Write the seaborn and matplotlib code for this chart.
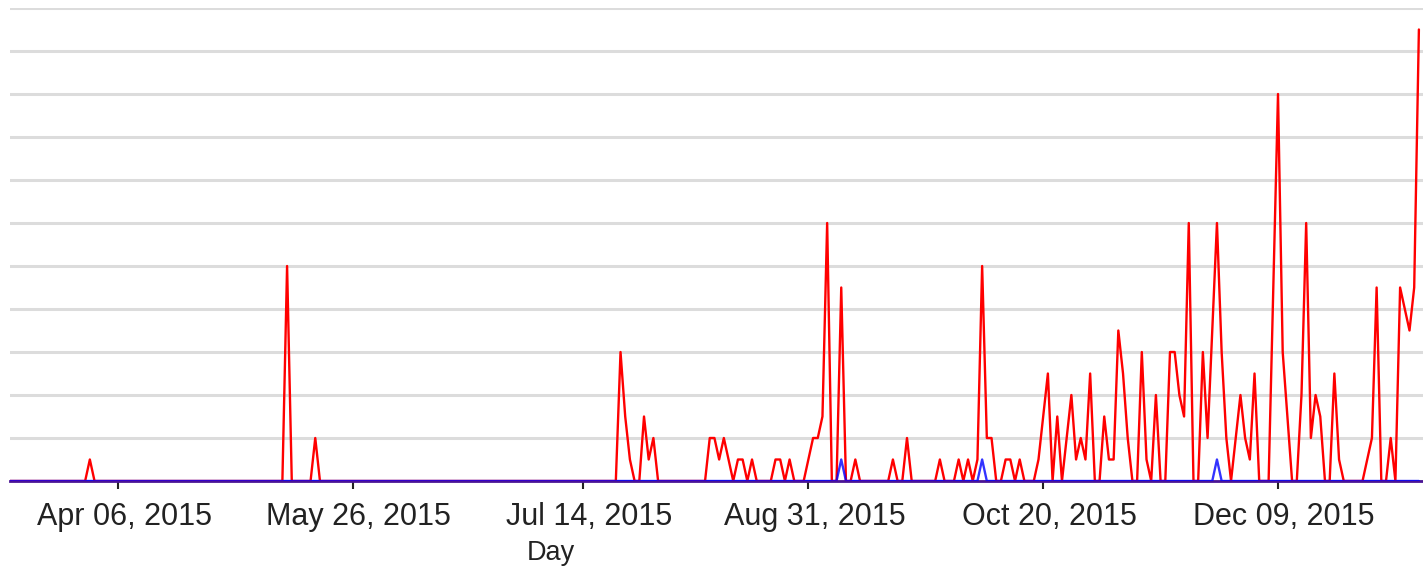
import matplotlib
matplotlib.use("Agg")
import matplotlib.pyplot as plt
import matplotlib.dates as mdates
import matplotlib.transforms as mtransforms
import pandas as pd
import seaborn as sns

# daily series, every day not listed below is 0
start_date = "2015-03-14"
end_date = "2016-01-08"

red_dates = [
    "2015-03-31", "2015-05-12", "2015-05-18",
    "2015-07-22", "2015-07-23", "2015-07-24", "2015-07-27", "2015-07-28", "2015-07-29",
    "2015-08-10", "2015-08-11", "2015-08-12", "2015-08-13", "2015-08-14", "2015-08-16",
    "2015-08-17", "2015-08-19", "2015-08-24", "2015-08-25", "2015-08-27", "2015-08-31",
    "2015-09-01", "2015-09-02", "2015-09-03", "2015-09-04", "2015-09-07", "2015-09-10",
    "2015-09-18", "2015-09-21", "2015-09-28",
    "2015-10-02", "2015-10-04", "2015-10-06", "2015-10-07", "2015-10-08", "2015-10-09",
    "2015-10-12", "2015-10-13", "2015-10-15", "2015-10-19", "2015-10-20", "2015-10-21",
    "2015-10-23", "2015-10-25", "2015-10-26", "2015-10-27", "2015-10-28", "2015-10-29",
    "2015-10-30",
    "2015-11-02", "2015-11-03", "2015-11-04", "2015-11-05", "2015-11-06", "2015-11-07",
    "2015-11-10", "2015-11-11", "2015-11-13", "2015-11-16", "2015-11-17", "2015-11-18",
    "2015-11-19", "2015-11-20", "2015-11-23", "2015-11-24", "2015-11-25", "2015-11-26",
    "2015-11-27", "2015-11-28", "2015-11-30",
    "2015-12-01", "2015-12-02", "2015-12-03", "2015-12-04", "2015-12-08", "2015-12-09",
    "2015-12-10", "2015-12-11", "2015-12-14", "2015-12-15", "2015-12-16", "2015-12-17",
    "2015-12-18", "2015-12-21", "2015-12-22", "2015-12-28", "2015-12-29", "2015-12-30",
    "2016-01-02", "2016-01-04", "2016-01-05", "2016-01-06", "2016-01-07", "2016-01-08",
]
red_counts = [
    1, 10, 2,
    6, 3, 1, 3, 1, 2,
    2, 2, 1, 2, 1, 1,
    1, 1, 1, 1, 1, 1,
    2, 2, 3, 12, 9, 1,
    1, 2, 1,
    1, 1, 1, 10, 2, 2,
    1, 1, 1, 1, 3, 5,
    3, 2, 4, 1, 2, 1,
    5,
    3, 1, 1, 7, 5, 2,
    6, 1, 4, 6, 6, 4,
    3, 12, 6, 2, 7, 12,
    6, 2, 2,
    4, 2, 1, 5, 9, 18,
    6, 3, 4, 12, 2, 4,
    3, 5, 1, 1, 2, 9,
    2, 9, 8, 7, 9, 21,
]

blue_dates = ["2015-09-07", "2015-10-07", "2015-11-26"]
blue_counts = [1, 1, 1]

tick_dates = ["2015-04-06", "2015-05-26", "2015-07-14", "2015-08-31", "2015-10-20", "2015-12-09"]

days = pd.date_range(start_date, end_date, freq="D")
red = pd.Series(red_counts, index=pd.to_datetime(red_dates)).reindex(days, fill_value=0)
blue = pd.Series(blue_counts, index=pd.to_datetime(blue_dates)).reindex(days, fill_value=0)
df = pd.DataFrame({"Day": days, "red": red.values, "blue": blue.values})

sns.set_theme(style="white")
plt.rcParams['font.family'] = ['Liberation Sans', 'DejaVu Sans']

fig = plt.figure(figsize=(14.23, 5.67), dpi=100)
ax = fig.add_axes([10 / 1423, 86 / 567, 1413 / 1423, 473 / 567])

sns.lineplot(data=df, x="Day", y="red", color="#ff0000", linewidth=1.7, ax=ax, zorder=3)
sns.lineplot(data=df, x="Day", y="blue", color="#0000ff", linewidth=1.7, alpha=0.8, ax=ax, zorder=4)

ax.set_ylim(0, 22)
ax.set_yticks(range(0, 23, 2))
ax.set_yticklabels([])
ax.yaxis.grid(True, color="#dcdcdc", linewidth=2.2)
ax.xaxis.grid(False)
ax.tick_params(axis="y", length=0)

ax.set_xlim(pd.Timestamp(start_date), pd.Timestamp("2016-01-08 21:00"))
ax.set_xticks(pd.to_datetime(tick_dates))
ax.xaxis.set_major_formatter(mdates.DateFormatter("%b %d, %Y"))
ax.tick_params(axis="x", length=6, width=1.5, color="#222222", direction="out",
               labelsize=22, labelcolor="#222222", pad=9, bottom=True)
# labels sit a little to the right of their ticks in the original
shift = mtransforms.ScaledTranslation(6 / 100, 0, fig.dpi_scale_trans)
for lbl in ax.get_xticklabels():
    lbl.set_transform(lbl.get_transform() + shift)

ax.set_xlabel("Day", fontsize=19.5, color="#222222")
ax.xaxis.set_label_coords((551 - 10) / 1413, -0.125)
ax.set_ylabel("")

for s in ["top", "right", "left"]:
    ax.spines[s].set_visible(False)
ax.spines["bottom"].set_color("#4a1494")
ax.spines["bottom"].set_linewidth(2.0)
ax.spines["bottom"].set_zorder(2)

plt.savefig("out.png", dpi=100)
